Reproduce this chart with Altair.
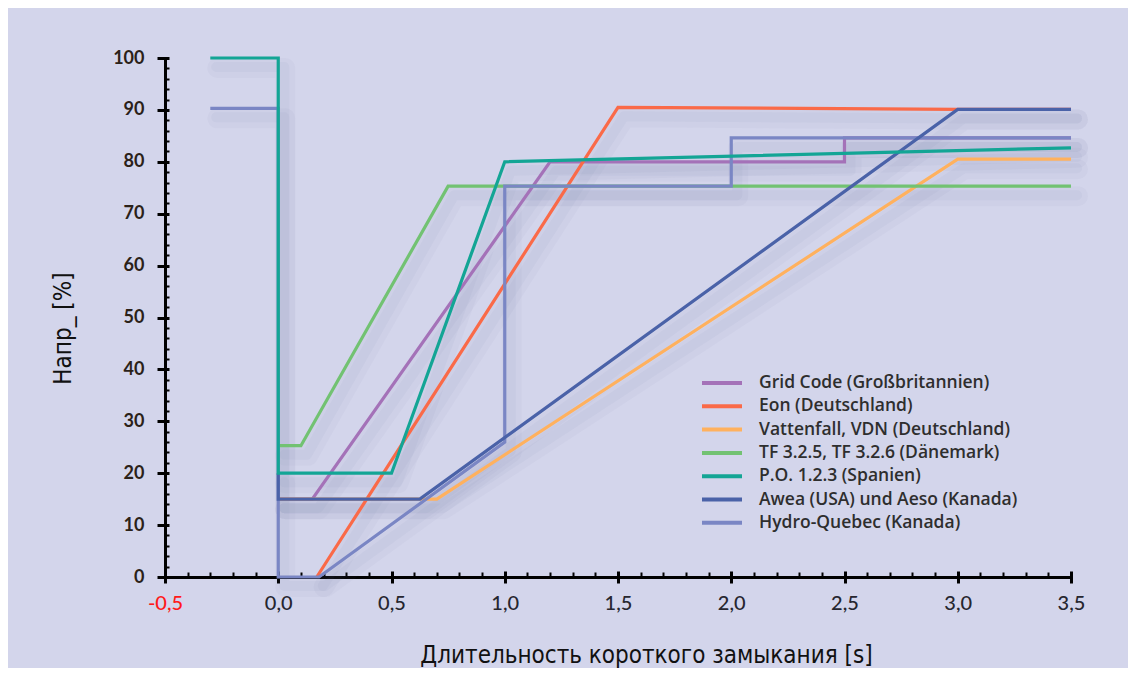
import altair as alt
import pandas as pd

# ---------------- data ----------------
series = [
    "Grid Code (Großbritannien)",
    "Eon (Deutschland)",
    "Vattenfall, VDN (Deutschland)",
    "TF 3.2.5, TF 3.2.6 (Dänemark)",
    "P.O. 1.2.3 (Spanien)",
    "Awea (USA) und Aeso (Kanada)",
    "Hydro-Quebec (Kanada)",
]
colors = ["#a472b8", "#fa6a48", "#ffb15e", "#72c272", "#13a595", "#4a62a8", "#7a86c4"]

grid_x = [0.0, 0.15, 1.2, 2.5, 2.5, 3.5]
grid_y = [15, 15, 80, 80, 84.6, 84.6]

eon_x = [0.17, 1.5, 3.0, 3.5]
eon_y = [0, 90.5, 90.1, 90.1]

vatt_x = [0.0, 0.7, 3.0, 3.5]
vatt_y = [15, 15, 80.5, 80.5]

tf_x = [0.0, 0.1, 0.75, 3.5]
tf_y = [25.3, 25.3, 75.3, 75.3]

po_x = [-0.3, 0.0, 0.0, 0.5, 1.0, 3.5]
po_y = [100, 100, 20, 20, 80, 82.7]

awea_x = [0.0, 0.0, 0.625, 3.0, 3.5]
awea_y = [20, 15, 15, 90.1, 90.1]

hq_x = [-0.3, 0.0, 0.0, 0.18, 1.0, 1.0, 2.0, 2.0, 3.5]
hq_y = [90.3, 90.3, 0, 0, 26, 75.3, 75.3, 84.6, 84.6]

x_major = [-0.5, 0.0, 0.5, 1.0, 1.5, 2.0, 2.5, 3.0, 3.5]
x_minor = [-0.4, -0.3, -0.2, -0.1, 0.1, 0.2, 0.3, 0.4, 0.6, 0.7, 0.8, 0.9,
           1.1, 1.2, 1.3, 1.4, 1.6, 1.7, 1.8, 1.9, 2.1, 2.2, 2.3, 2.4,
           2.6, 2.7, 2.8, 2.9, 3.1, 3.2, 3.3, 3.4]
y_major = [0, 10, 20, 30, 40, 50, 60, 70, 80, 90, 100]
y_minor = [2, 4, 6, 8, 12, 14, 16, 18, 22, 24, 26, 28, 32, 34, 36, 38,
           42, 44, 46, 48, 52, 54, 56, 58, 62, 64, 66, 68, 72, 74, 76, 78,
           82, 84, 86, 88, 92, 94, 96, 98]

# drawing order (bottom -> top)
draw = [
    (series[0], grid_x, grid_y),
    (series[1], eon_x, eon_y),
    (series[2], vatt_x, vatt_y),
    (series[3], tf_x, tf_y),
    (series[6], hq_x, hq_y),
    (series[5], awea_x, awea_y),
    (series[4], po_x, po_y),
]
rows = []
for name, xs_, ys_ in draw:
    for i, (a, b) in enumerate(zip(xs_, ys_)):
        rows.append({"series": name, "idx": i, "x": a, "y": b})
df = pd.DataFrame(rows)

# ---------------- chart ----------------
BG = "#d3d5eb"
TITLE_FONT = "Liberation Sans Narrow, DejaVu Sans Condensed, Roboto Condensed, Liberation Sans"
xs = alt.Scale(domain=[-0.5, 3.5], nice=False, zero=False)
ys = alt.Scale(domain=[0, 100], nice=False, zero=False)

base = alt.Chart(df)

# soft shadow layer 1 + axis lines
shadow1 = base.mark_line(
    color="#6a6c9a", opacity=0.04, strokeWidth=20, xOffset=7, yOffset=10,
    strokeJoin="round", strokeCap="round",
).encode(
    x=alt.X("x:Q", scale=xs, axis=alt.Axis(
        orient="bottom", domain=True, domainColor="black", domainWidth=3,
        ticks=False, labels=False, grid=False, title=None)),
    y=alt.Y("y:Q", scale=ys, axis=alt.Axis(
        orient="left", domain=True, domainColor="black", domainWidth=3,
        ticks=False, labels=False, grid=False, title=None)),
    detail="series:N",
    order="idx:Q",
)

# soft shadow layer 2 + minor ticks
shadow2 = base.mark_line(
    color="#6a6c9a", opacity=0.05, strokeWidth=10, xOffset=6, yOffset=9,
    strokeJoin="round", strokeCap="round",
).encode(
    x=alt.X("x:Q", scale=xs, axis=alt.Axis(
        orient="bottom", values=x_minor, domain=False, ticks=True,
        tickSize=5, tickWidth=2, tickColor="black", offset=-5,
        labels=False, grid=False, title=None)),
    y=alt.Y("y:Q", scale=ys, axis=alt.Axis(
        orient="left", values=y_minor, domain=False, ticks=True,
        tickSize=4, tickWidth=2, tickColor="black", offset=-4,
        labels=False, grid=False, title=None)),
    detail="series:N",
    order="idx:Q",
)

lines = base.mark_line(strokeWidth=3.2, strokeJoin="miter").encode(
    x=alt.X("x:Q", scale=xs, axis=alt.Axis(
        orient="bottom", values=x_major, domain=False, ticks=True,
        tickSize=12, tickWidth=3, tickColor="black", offset=-6,
        labelExpr="replace((datum.value < 0 ? '-' : '') + format(abs(datum.value), '.1f'), '.', ',')",
        labelFont="Lato", labelFontSize=20, labelFontWeight=500,
        labelColor={"condition": {"test": "datum.value < 0", "value": "#ff1a1a"},
                    "value": "#26262f"},
        labelPadding=10, labelFlush=False, labelOverlap=False, grid=False,
        title="Длительность короткого замыкания [s]",
        titleFont=TITLE_FONT, titleFontSize=24,
        titleFontWeight="normal", titleColor="#111111",
        titleX=481, titleY=84, titleAlign="center", titleBaseline="middle")),
    y=alt.Y("y:Q", scale=ys, axis=alt.Axis(
        orient="left", values=y_major, domain=False, ticks=True,
        tickSize=12, tickWidth=3, tickColor="black", offset=-4,
        labelFont="Lato", labelFontSize=18, labelFontWeight="bold",
        labelColor="#2b2118", labelPadding=13, labelFlush=False,
        labelOverlap=False, grid=False,
        title="Напр_ [%]",
        titleFont=TITLE_FONT, titleFontSize=24,
        titleFontWeight="normal", titleColor="#111111",
        titleX=-106, titleY=270, titleAngle=270,
        titleAlign="center", titleBaseline="middle")),
    color=alt.Color("series:N", scale=alt.Scale(domain=series, range=colors),
                    legend=alt.Legend(
                        orient="none", legendX=535, legendY=315, title=None,
                        symbolType="stroke", symbolSize=1600, symbolStrokeWidth=4,
                        labelFont="Open Sans", labelFontWeight=600, labelFontSize=17.5,
                        labelColor="#2e2e2e", labelLimit=400, clipHeight=20,
                        rowPadding=3.3, labelOffset=15, padding=0)),
    detail="series:N",
    order="idx:Q",
)

chart = alt.layer(shadow1, shadow2, lines).resolve_axis(
    x="independent", y="independent"
).properties(
    width=906,
    height=519,
    background=BG,
    padding={"left": 157, "top": 50, "right": 57, "bottom": 91},
    autosize=alt.AutoSizeParams(type="none"),
).configure_view(stroke=None)

chart.save("out.html", embed_options={"renderer": "svg", "actions": False})
